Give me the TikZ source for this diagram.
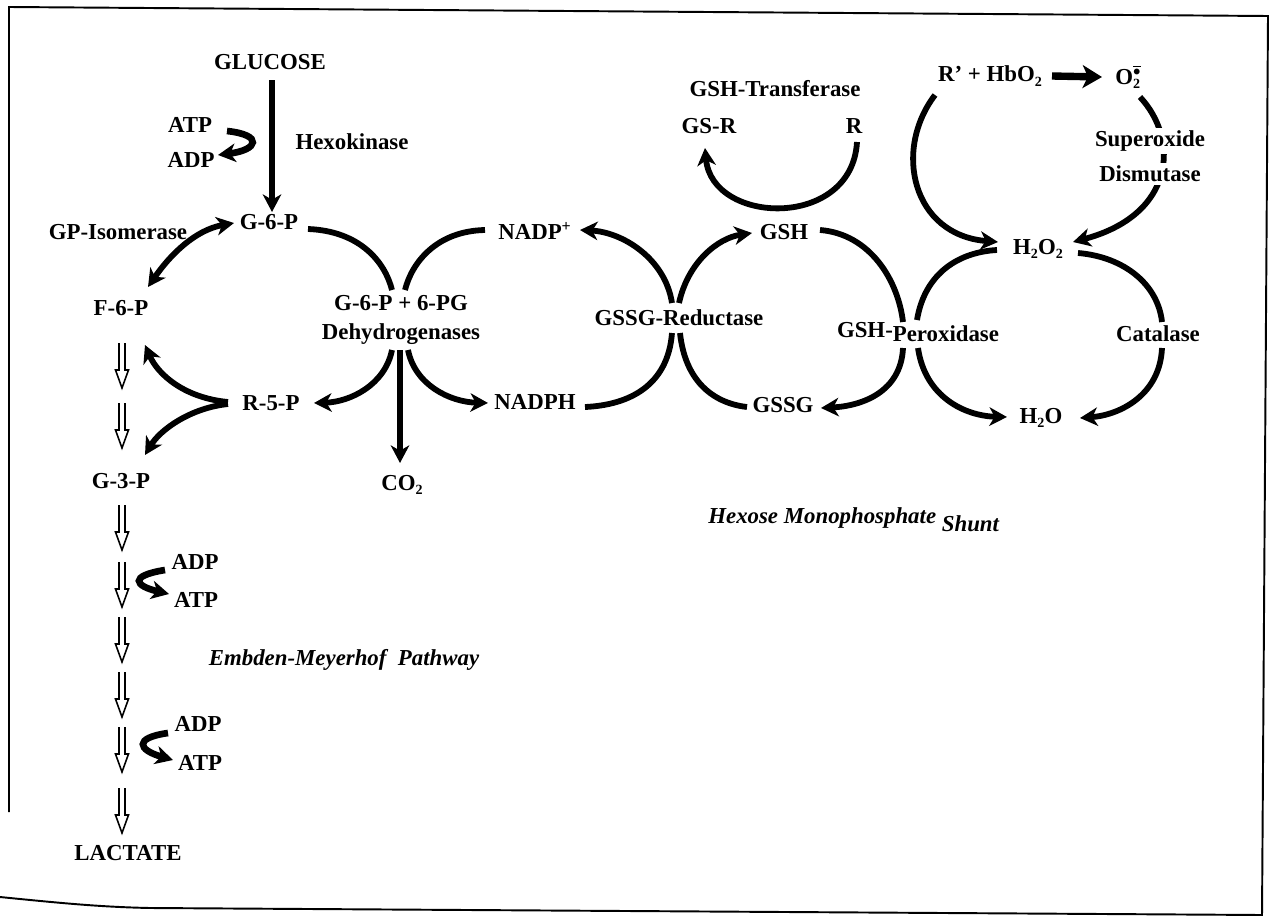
\documentclass[tikz,border=0pt]{standalone}
\usepackage{fontspec}
\setmainfont{Liberation Serif}
\usetikzlibrary{arrows.meta,calc}

\tikzset{
  lbl/.style={font=\fontsize{13}{16}\selectfont\bfseries, inner sep=0pt},
  ital/.style={font=\fontsize{13}{16}\selectfont\bfseries\itshape, inner sep=0pt},
  bow/.style={line width=3.3pt},
  react/.style={line width=3.3pt, -{Stealth[length=10pt,width=10.5pt,inset=3pt]}},
  frame/.style={line width=1.1pt},
  dblstep/.pic={\draw[line width=0.9pt, line join=miter]
      (-3,0) -- (-3,27) -- (-6.5,27) -- (0,45) -- (6.5,27) -- (3,27) -- (3,0);},
}
\newcommand{\sbs}[1]{\raisebox{-2.5pt}{\fontsize{8}{8}\selectfont #1}}

\begin{document}
\begin{tikzpicture}[x=0.02cm, y=-0.02cm]
  \useasboundingbox (0,0) rectangle (1275,916);

  % frame
  \draw[frame] (9,812) -- (9,7) -- (1268,16) -- (1262,916);
  \draw[frame] (0,897) .. controls (60,903) and (100,907) .. (150,908) -- (1262,915);

  % Embden-Meyerhof side
  \node[lbl] (glucose) at (270,62)  {GLUCOSE};
  \node[lbl] (atp0)    at (190,125) {ATP};
  \node[lbl] (adp0)    at (191,160) {ADP};
  \node[lbl] (hexo)    at (352,142) {Hexokinase};
  \node[lbl] (g6p)     at (269,222) {G-6-P};
  \node[lbl] (gpiso)   at (118,232) {GP-Isomerase};
  \node[lbl] (f6p)     at (121,308) {F-6-P};
  \node[lbl] (g3p)     at (121,481) {G-3-P};
  \node[lbl] (adp1)    at (195,562) {ADP};
  \node[lbl] (atp1)    at (196,600) {ATP};
  \node[lbl] (adp2)    at (198,724) {ADP};
  \node[lbl] (atp2)    at (200,763) {ATP};
  \node[lbl] (lactate) at (128,853) {LACTATE};
  \node[ital] (emp)    at (344,660) {Embden-Meyerhof\ \ Pathway};

  \draw[react, line width=3.8pt] ($(glucose)+(2,18)$) -- ($(g6p)+(3,-10)$);
  \draw[react, line width=3.8pt] ($(atp0)+(37,6)$) .. controls (264,135) and (258,150) .. ($(adp0)+(27,-5)$);
  \draw[react, {Stealth[length=10pt,width=10.5pt,inset=3pt]}-{Stealth[length=10pt,width=10.5pt,inset=3pt]}]
    ($(f6p)+(27,-21)$) .. controls (170,255) and (195,230) .. ($(g6p)+(-35,1)$);

  \foreach \y in {343,403,505,562,617,672,727,788}
    \pic at (122,\y) {dblstep};

  \draw[react, line width=3.8pt] ($(adp1)+(-30,8)$) .. controls (128,576) and (135,586) .. ($(atp1)+(-27,-6)$);
  \draw[react, line width=3.8pt] ($(adp2)+(-30,9)$) .. controls (133,738) and (138,750) .. ($(atp2)+(-27,-3)$);

  % dehydrogenases
  \node[lbl, align=center] (dehyd) at (401,320) {G-6-P + 6-PG\\Dehydrogenases};
  \node[lbl] (r5p)   at (271,403) {R-5-P};
  \node[lbl] (co2)   at (402,485) {CO\sbs{2}};
  \node[lbl] (nadpp) at (535,231) {NADP\textsuperscript{+}};
  \node[lbl] (nadph) at (535,402) {NADPH};

  \draw[bow] ($(g6p)+(39,7)$) .. controls (360,231) and (385,262) .. ($(dehyd)+(-9,-30)$);
  \draw[bow] ($(nadpp)+(-50,-1)$) .. controls (437,231) and (412,262) .. ($(dehyd)+(4,-30)$);
  \draw[react] ($(dehyd)+(-9,30)$) .. controls (385,385) and (350,402) .. ($(r5p)+(43,0)$);
  \draw[react] ($(dehyd)+(7,30)$) .. controls (415,385) and (450,402) .. ($(nadph)+(-47,1)$);
  \draw[react] ($(dehyd)+(-1,30)$) -- ($(co2)+(-2,-22)$);
  \draw[react] ($(r5p)+(-43,-1)$) .. controls (185,398) and (158,375) .. ($(f6p)+(24,37)$);
  \draw[react] ($(r5p)+(-43,1)$) .. controls (190,408) and (160,430) .. ($(g3p)+(24,-26)$);

  % glutathione
  \node[lbl] (red)    at (679,318) {GSSG-Reductase};
  \node[lbl] (gsh)    at (784,232) {GSH};
  \node[lbl] (gssg)   at (783,405) {GSSG};
  \node[lbl] (gtrans) at (775,89)  {GSH-Transferase};
  \node[lbl] (gsr)    at (709,126) {GS-R};
  \node[lbl] (rr)     at (854,126) {R};
  \node[lbl] (perox)  at (918,332) {GSH-\raisebox{-2pt}{Peroxidase}};

  \draw[react] ($(red)+(-7,-15)$) .. controls (665,258) and (622,232) .. ($(nadpp)+(45,-1)$);
  \draw[react] ($(red)+(0,-15)$) .. controls (688,262) and (718,238) .. ($(gsh)+(-32,1)$);
  \draw[bow] ($(red)+(-7,15)$) .. controls (668,385) and (630,405) .. ($(nadph)+(50,5)$);
  \draw[bow] ($(red)+(1,15)$) .. controls (685,380) and (712,403) .. ($(gssg)+(-36,2)$);
  \draw[react] ($(rr)+(3,16)$) .. controls (852,230) and (712,225) .. ($(gsr)+(-4,22)$);
  \draw[bow] ($(gsh)+(36,-2)$) .. controls (870,234) and (898,280) .. ($(perox)+(-15,-10)$);
  \draw[react] ($(perox)+(-15,16)$) .. controls (901,392) and (862,406) .. ($(gssg)+(38,3)$);

  % peroxide
  \node[lbl] (h2o2)  at (1038,249) {H\sbs{2}O\sbs{2}};
  \node[lbl] (h2o)   at (1041,418) {H\sbs{2}O};
  \node[lbl] (catal) at (1158,334) {Catalase};
  \node[lbl] (hbo)   at (990,76)   {R' + HbO\sbs{2}};
  \node[lbl] (supox) at (1128,77)  {O\rlap{\sbs{2}}\raisebox{5pt}{\fontsize{8}{8}\selectfont$\overline{\bullet}$}};

  \draw[bow] ($(perox)+(-1,-12)$) .. controls (925,272) and (960,252) .. ($(h2o2)+(-41,1)$);
  \draw[react] ($(perox)+(0,16)$) .. controls (925,397) and (965,416) .. ($(h2o)+(-34,-1)$);
  \draw[bow] ($(h2o2)+(40,4)$) .. controls (1125,257) and (1158,285) .. ($(catal)+(4,-12)$);
  \draw[react] ($(catal)+(4,14)$) .. controls (1160,395) and (1120,415) .. ($(h2o)+(39,0)$);
  \draw[react] ($(hbo)+(-55,19)$) .. controls (893,150) and (912,235) .. ($(h2o2)+(-40,-7)$);
  \draw[react, line width=4.2pt, -{Stealth[length=11pt,width=13pt,inset=3pt]}] ($(hbo)+(62,0)$) -- ($(supox)+(-26,0)$);
  \draw[react] ($(supox)+(12,20)$) .. controls (1180,140) and (1175,215) .. ($(h2o2)+(35,-7)$);
  \node[lbl, fill=white, inner sep=1.5pt] (sod1) at (1150,141) {Superoxide};
  \node[lbl, fill=white, inner sep=1.5pt] (sod2) at (1150,174) {Dismutase};

  \node[ital, anchor=base west] (hmp) at (708,523) {Hexose Monophosphate \raisebox{-5pt}{Shunt}};
\end{tikzpicture}
\end{document}
